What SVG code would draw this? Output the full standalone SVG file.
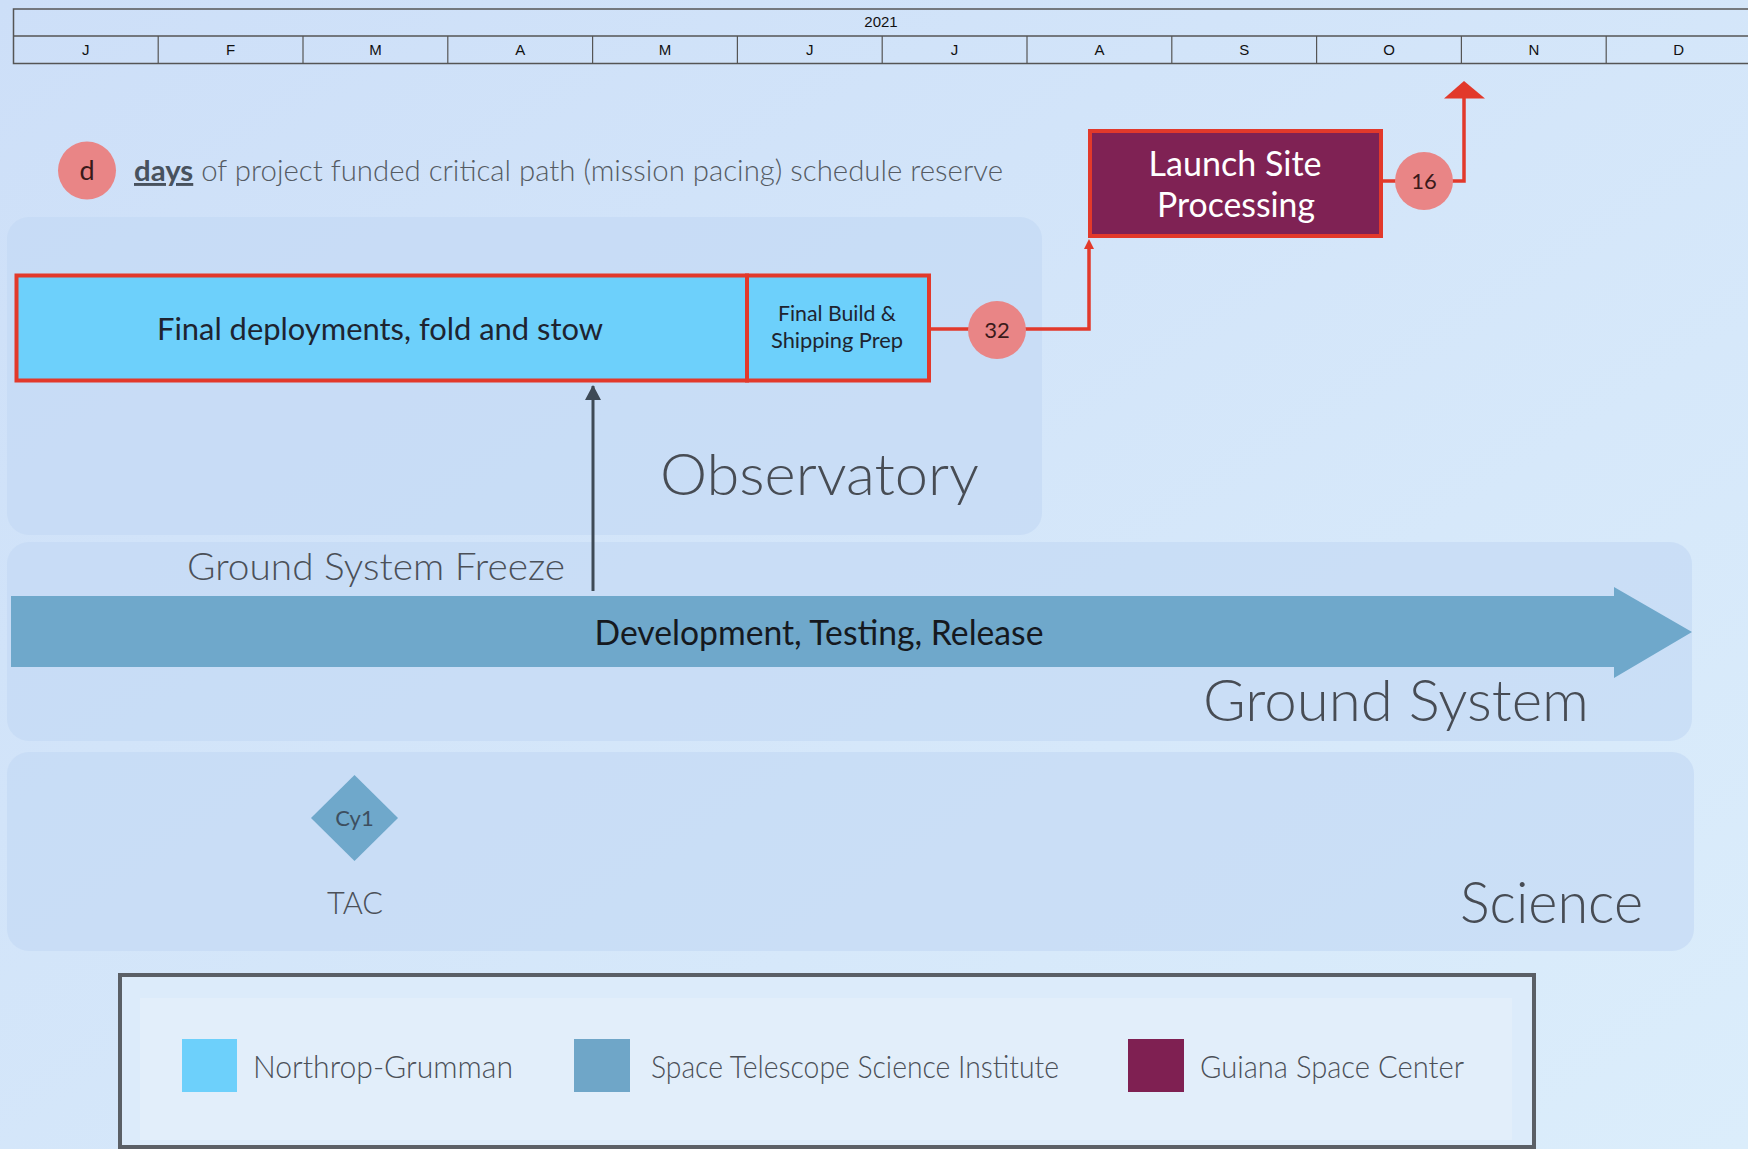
<svg xmlns="http://www.w3.org/2000/svg" width="1748" height="1149" viewBox="0 0 1748 1149">
<defs>
<linearGradient id="bg" x1="0" y1="0" x2="1" y2="1">
<stop offset="0" stop-color="#cddff8"/>
<stop offset="1" stop-color="#dbedfb"/>
</linearGradient>
<marker id="redHead" markerWidth="10" markerHeight="10" refX="5" refY="5" orient="auto" markerUnits="userSpaceOnUse">
<path d="M0,0 L10,5 L0,10 Z" fill="#e2392b"/>
</marker>
<marker id="greyHead" markerWidth="16" markerHeight="16" refX="14" refY="8" orient="auto" markerUnits="userSpaceOnUse">
<path d="M0,0 L15,8 L0,16 Z" fill="#3e4a56"/>
</marker>
<style>
.gs{font-family:Lato,"Open Sans","Liberation Sans",sans-serif}
.tl{font-family:"Liberation Sans",Arial,sans-serif;font-size:15px;fill:#111;text-anchor:middle}
.panel{fill:#c3d8f5;fill-opacity:0.65}
.red{stroke:#e2392b;stroke-width:3.5;fill:none}
.resv{fill:#e98586}
.lbl{fill:#4b5058;font-weight:300}
.big{fill:#474c54;font-size:58px;font-weight:300}
</style>
</defs>
<rect x="0" y="0" width="1748" height="1149" fill="url(#bg)"/>

<g id="timeline">
<rect x="13.5" y="9" width="1740" height="54.5" fill="none" stroke="#555" stroke-width="1.5"/>
<line x1="13.5" y1="36" x2="1748" y2="36" stroke="#555" stroke-width="1.5"/>
<g stroke="#555" stroke-width="1.2">
<line x1="158.2" y1="36" x2="158.2" y2="63.5"/>
<line x1="303" y1="36" x2="303" y2="63.5"/>
<line x1="447.8" y1="36" x2="447.8" y2="63.5"/>
<line x1="592.6" y1="36" x2="592.6" y2="63.5"/>
<line x1="737.4" y1="36" x2="737.4" y2="63.5"/>
<line x1="882.2" y1="36" x2="882.2" y2="63.5"/>
<line x1="1027" y1="36" x2="1027" y2="63.5"/>
<line x1="1171.8" y1="36" x2="1171.8" y2="63.5"/>
<line x1="1316.6" y1="36" x2="1316.6" y2="63.5"/>
<line x1="1461.4" y1="36" x2="1461.4" y2="63.5"/>
<line x1="1606.2" y1="36" x2="1606.2" y2="63.5"/>
</g>
<text class="tl" x="881" y="27">2021</text>
<text class="tl" x="85.8" y="55">J</text>
<text class="tl" x="230.6" y="55">F</text>
<text class="tl" x="375.4" y="55">M</text>
<text class="tl" x="520.2" y="55">A</text>
<text class="tl" x="665" y="55">M</text>
<text class="tl" x="809.8" y="55">J</text>
<text class="tl" x="954.6" y="55">J</text>
<text class="tl" x="1099.4" y="55">A</text>
<text class="tl" x="1244.2" y="55">S</text>
<text class="tl" x="1389" y="55">O</text>
<text class="tl" x="1533.8" y="55">N</text>
<text class="tl" x="1678.6" y="55">D</text>
</g>

<g id="reserve-key">
<circle class="resv" cx="87" cy="170.5" r="29"/>
<text class="gs" x="87" y="180" font-size="27" fill="#3a1a1a" text-anchor="middle">d</text>
<text class="gs" x="134" y="181" font-size="29" fill="#555b63" font-weight="300" textLength="869" lengthAdjust="spacingAndGlyphs"><tspan font-weight="bold" fill="#48525e" text-decoration="underline">days</tspan> of project funded critical path (mission pacing) schedule reserve</text>
</g>

<g id="observatory-panel">
<rect class="panel" x="7" y="217" width="1035" height="318" rx="22"/>
<text class="gs big" x="660" y="495" textLength="319" lengthAdjust="spacingAndGlyphs">Observatory</text>
</g>
<g id="ground-panel">
<rect class="panel" x="7" y="542" width="1685" height="199" rx="22"/>
<text class="gs big" x="1203" y="721" textLength="386" lengthAdjust="spacingAndGlyphs">Ground System</text>
</g>
<g id="science-panel">
<rect class="panel" x="7" y="752" width="1687" height="199" rx="22"/>
<text class="gs big" x="1460" y="923" textLength="183" lengthAdjust="spacingAndGlyphs">Science</text>
</g>

<g id="connectors">
<path class="red" d="M930,329 H1089 V244" marker-end="url(#redHead)"/>
<path class="red" d="M1382,181 H1464 V96"/>
<path d="M1444,98.5 L1464,81 L1485,98.5 Z" fill="#e2392b"/>
<line x1="593" y1="591" x2="593" y2="386" stroke="#3e4a56" stroke-width="3" marker-end="url(#greyHead)"/>
</g>

<g id="final-deployments">
<rect x="16.5" y="275.5" width="730.5" height="105" fill="#6dd0fb" stroke="#e2392b" stroke-width="4"/>
<text class="gs" x="380" y="340" font-size="31" fill="#1e2430" text-anchor="middle" textLength="446" lengthAdjust="spacingAndGlyphs">Final deployments, fold and stow</text>
</g>
<g id="final-build">
<rect x="747" y="275.5" width="182" height="105" fill="#6dd0fb" stroke="#e2392b" stroke-width="4"/>
<text class="gs" x="837" y="321" font-size="21" fill="#1e2430" text-anchor="middle" textLength="118" lengthAdjust="spacingAndGlyphs">Final Build &amp;</text>
<text class="gs" x="837" y="348" font-size="21" fill="#1e2430" text-anchor="middle" textLength="132" lengthAdjust="spacingAndGlyphs">Shipping Prep</text>
</g>
<g id="reserve-32">
<circle class="resv" cx="997" cy="330" r="29"/>
<text class="gs" x="997" y="338" font-size="22" fill="#3a1a1a" text-anchor="middle">32</text>
</g>
<g id="launch-site">
<rect x="1090" y="131" width="291" height="105" fill="#7f2254" stroke="#e2392b" stroke-width="4"/>
<text class="gs" x="1235" y="176" font-size="35" fill="#ffffff" text-anchor="middle" textLength="173" lengthAdjust="spacingAndGlyphs">Launch Site</text>
<text class="gs" x="1236" y="217" font-size="35" fill="#ffffff" text-anchor="middle" textLength="158" lengthAdjust="spacingAndGlyphs">Processing</text>
</g>
<g id="reserve-16">
<circle class="resv" cx="1424" cy="181" r="29"/>
<text class="gs" x="1424" y="189" font-size="22" fill="#3a1a1a" text-anchor="middle">16</text>
</g>

<g id="ground-freeze">
<text class="gs lbl" x="187" y="580" font-size="37" textLength="378" lengthAdjust="spacingAndGlyphs">Ground System Freeze</text>
</g>
<g id="development">
<path d="M11,596 H1614 V587 L1692,632 L1614,678 V667 H11 Z" fill="#6fa8cb"/>
<text class="gs" x="819" y="645" font-size="34" fill="#15191f" text-anchor="middle" textLength="449" lengthAdjust="spacingAndGlyphs">Development, Testing, Release</text>
</g>

<g id="tac">
<path d="M354.5,775 L398,818 L354.5,861 L311,818 Z" fill="#6fa8cb"/>
<text class="gs" x="354.5" y="826" font-size="22" fill="#3d4f60" text-anchor="middle">Cy1</text>
<text class="gs lbl" x="355" y="914" font-size="31" text-anchor="middle" textLength="56" lengthAdjust="spacingAndGlyphs">TAC</text>
</g>

<g id="legend">
<rect x="120" y="975" width="1414" height="172" fill="#dcebfa" stroke="#5a5f66" stroke-width="4"/>
<rect x="140" y="998" width="1372" height="142" fill="#e2eefa"/>
<rect x="182" y="1039" width="55" height="53" fill="#6dd0fb"/>
<text class="gs lbl" x="253" y="1078" font-size="31" textLength="260" lengthAdjust="spacingAndGlyphs">Northrop-Grumman</text>
<rect x="574" y="1039" width="56" height="53" fill="#6fa6c8"/>
<text class="gs lbl" x="651" y="1078" font-size="31" textLength="408" lengthAdjust="spacingAndGlyphs">Space Telescope Science Institute</text>
<rect x="1128" y="1039" width="56" height="53" fill="#7f2052"/>
<text class="gs lbl" x="1200" y="1078" font-size="31" textLength="264" lengthAdjust="spacingAndGlyphs">Guiana Space Center</text>
</g>
</svg>
